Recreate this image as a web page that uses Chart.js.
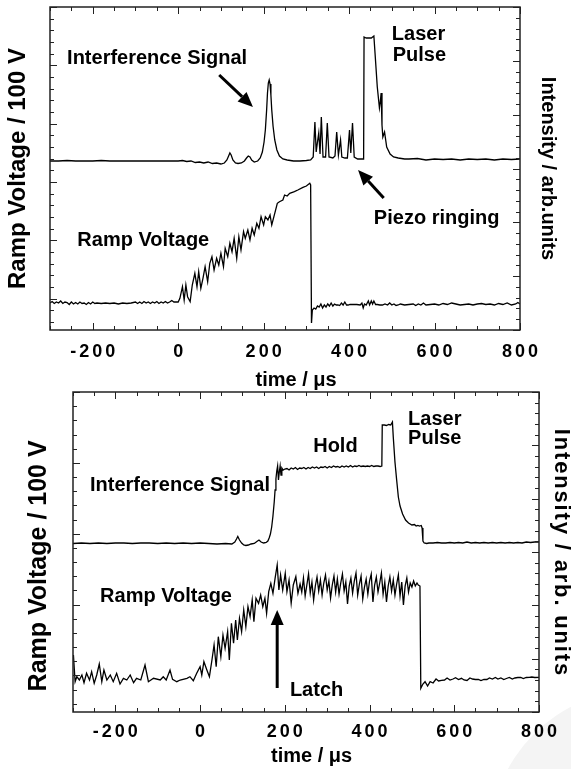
<!DOCTYPE html>
<html>
<head>
<meta charset="utf-8">
<script src="https://cdn.jsdelivr.net/npm/chart.js@4.4.1/dist/chart.umd.min.js"></script>
<style>
  html, body { margin: 0; padding: 0; background: #fff; }
  body { width: 571px; height: 769px; position: relative; overflow: hidden; }
  canvas { position: absolute; left: 0; }
  #topChart { top: 0; }
  #bottomChart { top: 380px; }
  .smudge { position: absolute; left: 490px; top: 690px; width: 300px; height: 300px; border-radius: 50%; background: #f4f4f4; }
</style>
</head>
<body>
<div class="smudge"></div>
<canvas id="topChart" width="571" height="400"></canvas>
<canvas id="bottomChart" width="571" height="389"></canvas>
<script>
// x axis (time / us)
var tickValues = [-200, 0, 200, 400, 600, 800];
var tickLabels = ['-200', '0', '200', '400', '600', '800'];

// ---- top panel: interference signal (arb. units)
var topSignalTime = [
  -300,-280,-260,-240,-220,-200,-180,-160,-140,-120,
  -100,-80,-60,-40,-20,0,10,20,30,40,
  50,60,70,80,90,100,108,114,118,121,
  124,128,134,140,148,155,160,164,168,172,
  178,186,192,197,201,204,207,209,211,213,
  215,217,219,222,226,231,237,245,255,270,
  285,300,310,316,320,323,326,329,332,335,
  339,345,349,353,362,367,371,375,380,383,
  390,396,401,404,408,412,420,428,434,435,
  440,445,452,458,461,466,471,473,475,477,
  479,483,488,496,504,515,530,540,560,580,
  600,620,640,660,680,700,720,740,760,780,
  800];
var topSignalValue = [
  169,169,169.5,169,169,169,169.5,169,169,169,
  169,169,169,169,169,169,169.5,168.5,169,167.5,
  168,167,168,166.5,167,166,167,170,174,177,
  175,170,167,166.5,167,169,172,174,173,170,
  168,169,172,178,188,200,220,237,247,250,
  246,235,220,204,190,180,174,171,170,169,
  169,169.5,170,173,208,178,188,197,176,213,
  173,173,207,173,172,174,198,175,190,173,
  172,172,200,177,207,173,171,171,171,293,
  292,292,292,294,275,243,222,228,237,205,
  193,198,183,176,173,172,171,171,171.5,170,
  171,170.5,171,170,171,170.5,171,170,171,170.5,
  171];

// ---- top panel: ramp voltage
var topRampTime = [
  -300,-295,-290,-285,-280,-275,-270,-265,-260,-255,
  -250,-245,-240,-235,-230,-225,-220,-215,-210,-205,
  -200,-195,-190,-180,-170,-160,-150,-140,-130,-120,
  -110,-100,-95,-90,-85,-80,-75,-70,-65,-60,
  -55,-50,-45,-40,-35,-30,-25,-20,-15,-10,
  -5,0,4,10,14,18,22,28,33,39,
  44,48,53,58,63,69,74,79,84,90,
  95,100,106,110,116,121,126,131,137,142,
  147,153,157,163,168,173,178,184,189,194,
  200,204,210,215,219,226,232,237,245,249,
  255,261,272,280,292,300,308,310,312,314,
  318,322,326,330,334,338,342,346,350,354,
  358,362,366,370,374,378,382,386,390,394,
  398,402,410,418,426,430,433,436,440,445,
  448,452,455,458,462,466,472,478,484,490,
  495,500,505,510,515,520,530,540,550,556,
  562,568,574,580,590,600,610,620,630,640,
  650,660,670,680,690,700,710,720,730,740,
  750,760,770,780,790,795,800];
var topRampValue = [
  27,28.5,26.5,28,27,29,26.5,28,27.5,25.5,
  28,26,27.5,26,28,26.5,27,25.5,27.5,26,
  28,26.5,27,26.5,27,26.5,27,26,27,26.5,
  27,28,26.5,28,26.5,28.5,27,28,26.5,28,
  27,28.5,26.5,28,27,28.5,27,28,29.5,28,
  28,28,31.7,43.3,30,45,33.3,28.3,45,56.7,
  43.3,58.3,41.7,51.7,63.3,48.3,66.7,73.3,60,71.7,
  65,76.7,63.3,81.7,73.3,86.7,78.3,91.7,71.7,93.3,
  80,98.3,91.7,100,90,101.7,95,106.7,101.7,113.3,
  105,113.3,110,115,105,116.7,126.7,128.3,130,135,
  134,136.7,138.3,140,142.7,144,146.7,145,7,20,
  22,21,24,23,26,22,25,23,26,24,
  27,24,26,25,25,24.5,27,25,28,25,
  25,25.5,25.5,25.5,25,27,22,26,25,29,
  25,29,26,29,25.5,25.5,25,25,26,25,
  27,25,26,24.5,25,26,25,25.5,26,24.5,
  26,25,27,25,25.5,26,25,26.5,25.5,27,
  26,25,25.5,26,25,26,26.5,25.5,26,25,
  26.5,25.5,27,25,26,27.5,26];

// ---- bottom panel: interference signal
var botSignalTime = [
  -300,-280,-260,-240,-220,-200,-180,-160,-140,-120,
  -100,-80,-60,-40,-20,0,20,40,60,75,
  82,86,89,93,98,103,108,114,120,128,
  134,139,144,150,156,160,163,166,169,172,
  175,177,179,181,183,185,187,189,191,193,
  196,200,205,210,215,220,225,230,235,240,
  245,250,255,260,265,270,275,280,285,290,
  295,300,305,310,315,320,325,330,335,340,
  345,350,355,360,365,370,375,380,385,390,
  395,400,405,410,415,420,425,429,430,435,
  440,445,450,454,456,460,464,468,472,478,
  485,492,500,506,510,514,518,522,524,526,
  529,535,540,550,560,570,580,590,600,610,
  620,630,640,650,660,670,680,690,700,710,
  720,730,740,750,760,770,780,790,800];
var botSignalValue = [
  168.5,169,168.5,169,168.5,169,169,168.5,169,169,
  168.5,169,168.5,169,168.5,169,168.5,168,168.5,168,
  170,173,175.5,172,169,167,166.5,167,168,168.5,
  170.5,172,170,169,169.5,171,174,178,185,196,
  210,222,233,241,246,232,240,246,237,244,
  242,243,243.5,242,244,243,244.5,242.5,244,243.5,
  244.5,243,244.5,243.5,245,244,245,243.5,245,244.5,
  245.5,244,245.5,244.5,246,245,245.5,244.5,246,245,
  246,245,246.5,245,246,245.5,246.5,245.5,246,245.5,
  246,245.5,246.5,245.5,246,246,245.5,246,287,287,
  286.5,287.5,287,290,275,250,232,215,206,198,
  192,189,187,187.5,186,186.5,186,186.5,184,171,
  169,168.5,169,169,169.5,169,169,169.5,169,169.5,
  169,170,169,169.5,169,169.5,169,169.5,169,169.5,
  169,169.5,169,169.5,169,170,169.5,170,170];

// ---- bottom panel: ramp voltage (latched)
var botRampTime = [
  -299,-295,-291,-285,-279,-274,-268,-261,-256,-250,
  -244,-238,-232,-227,-220,-212,-205,-197,-189,-181,
  -173,-165,-157,-150,-140,-130,-122,-110,-94,-87,
  -80,-71,-65,-55,-47,-31,-24,-16,-8,0,
  4,9,16,22,28,33,38,43,49,54,
  59,65,69,74,79,84,88,93,98,103,
  108,113,118,123,127,132,138,143,148,153,
  157,162,167,172,177,182,186,190,195,201,
  205,210,215,220,226,231,236,240,244,248,
  252,256,260,264,268,272,276,280,284,288,
  292,296,300,304,308,312,316,320,324,328,
  332,336,340,344,348,352,356,360,364,368,
  372,376,380,384,388,392,396,400,404,408,
  412,416,420,424,428,432,436,440,444,448,
  452,456,460,464,468,472,476,480,484,488,
  492,496,500,504,508,512,515,519,521,526,
  531,537,543,550,557,563,570,577,583,590,
  597,603,610,617,623,630,637,643,650,657,
  663,670,677,683,690,697,703,710,717,723,
  730,737,743,750,757,763,770,777,783,790,
  800];
var botRampValue = [
  57,30.3,35.3,32,37,29.3,38.7,32,40.3,28.7,
  37,48,30.3,42,32,37,30.3,38.7,28,33.7,
  32,37,29.3,33.7,32,47,30.3,33.7,32,35.3,
  32,42,32.7,30.3,32,33.7,35.3,31.3,38.7,45.3,
  37,50.3,42,35.3,52,67,45.3,75.3,55.3,77,
  63.7,80.3,52,88.7,68.7,92,72,93.7,80.3,102,
  85.3,105.3,95.3,112,90.3,113.7,108.7,117,105.3,113.7,
  98.7,120.3,128.7,118.7,133.7,147,122,137,122,138.7,
  120.3,132,108.7,127,135.3,118.7,128,120,134,116,
  127,138,119,130,112,126,135,121,132,117,
  129,137,122,131,114,127,136,120,133,118,
  129,138,121,130,108,126,134,119,131,139,
  117,128,136,113,125,133,118,131,138,110,
  127,135,120,129,139,118,130,110,126,135,
  121,132,117,128,137,116,130,107,126,134,
  120,129,125,131,126,129,127,126,23.7,28,
  30.3,26,30.3,29,33,31,31.7,32,34,32,
  33,34.3,32.5,33.7,32,31.5,34,33,32.5,32.5,
  31.5,32.5,32.5,34,33,34.5,33,34,32.5,33.5,
  34.5,33,34,34.5,34.5,33.5,34.5,34.7,35,34.5,
  34.7];

var FONT = '"Liberation Sans", Arial, Helvetica, sans-serif';
Chart.defaults.font.family = FONT;
Chart.defaults.color = '#000';

function points(times, values) {
  return times.map(function (t, i) { return { x: t, y: values[i] }; });
}

function spaced(s, gap) {
  return s.split('').join(gap || '\u2006');
}

// box round the plot, ticks pointing inwards on all four sides
var framePlugin = {
  id: 'frame',
  afterDatasetsDraw: function (chart, args, opts) {
    var ctx = chart.ctx, a = chart.chartArea;
    var x = chart.scales.x, y = chart.scales.y;
    ctx.save();
    ctx.strokeStyle = '#222';
    ctx.lineWidth = 1;
    ctx.beginPath();
    for (var v = -300; v <= 800; v += 50) {
      var px = Math.round(x.getPixelForValue(v)) + 0.5;
      var len = tickValues.indexOf(v) >= 0 ? 7 : 4;
      ctx.moveTo(px, a.bottom); ctx.lineTo(px, a.bottom - len);
      ctx.moveTo(px, a.top); ctx.lineTo(px, a.top + len);
    }
    for (var k = 0; y.max - k * opts.leftStep >= y.min; k++) {
      var py = Math.round(y.getPixelForValue(y.max - k * opts.leftStep)) + 0.5;
      ctx.moveTo(a.left, py); ctx.lineTo(a.left + (k % 5 === 0 ? 7 : 4), py);
    }
    for (var j = 0; j <= 30; j++) {
      var qy = Math.round(y.getPixelForValue(y.max - j * (y.max - y.min) / 30)) + 0.5;
      ctx.moveTo(a.right, qy); ctx.lineTo(a.right - (j % 5 === 0 ? 7 : 4), qy);
    }
    ctx.stroke();
    ctx.lineWidth = 1.5;
    ctx.strokeRect(a.left, a.top, a.right - a.left, a.bottom - a.top);
    ctx.restore();
  }
};

// labels and arrows, placed in data coordinates
var notesPlugin = {
  id: 'notes',
  afterDraw: function (chart, args, opts) {
    var ctx = chart.ctx, x = chart.scales.x, y = chart.scales.y;
    ctx.save();
    ctx.fillStyle = '#000';
    ctx.strokeStyle = '#000';
    ctx.font = 'bold 20px ' + FONT;
    ctx.textBaseline = 'middle';
    ctx.textAlign = 'left';
    opts.labels.forEach(function (n) {
      ctx.fillText(n.text, x.getPixelForValue(n.t), y.getPixelForValue(n.v));
    });
    opts.arrows.forEach(function (ar) {
      var x1 = x.getPixelForValue(ar.t1), y1 = y.getPixelForValue(ar.v1);
      var x2 = x.getPixelForValue(ar.t2), y2 = y.getPixelForValue(ar.v2);
      var ang = Math.atan2(y2 - y1, x2 - x1);
      var head = 15, half = 6.5;
      var bx = x2 - head * Math.cos(ang), by = y2 - head * Math.sin(ang);
      ctx.lineWidth = 3;
      ctx.beginPath(); ctx.moveTo(x1, y1); ctx.lineTo(bx, by); ctx.stroke();
      ctx.beginPath();
      ctx.moveTo(x2, y2);
      ctx.lineTo(bx - half * Math.sin(ang), by + half * Math.cos(ang));
      ctx.lineTo(bx + half * Math.sin(ang), by - half * Math.cos(ang));
      ctx.closePath();
      ctx.fill();
    });
    ctx.restore();
  }
};

function panel(id, p) {
  return new Chart(id, {
    type: 'line',
    data: {
      datasets: [{
        label: 'Ramp Voltage',
        data: points(p.rampTime, p.rampValue),
        yAxisID: 'y'
      }, {
        label: 'Interference Signal',
        data: points(p.signalTime, p.signalValue),
        yAxisID: 'y2'
      }]
    },
    options: {
      responsive: false,
      animation: false,
      devicePixelRatio: 1,
      layout: { padding: { top: p.top, left: 0, right: 0, bottom: 0 } },
      elements: {
        point: { radius: 0 },
        line: { borderWidth: 1.3, borderColor: '#000', tension: 0, fill: false }
      },
      plugins: {
        legend: { display: false },
        tooltip: { enabled: false },
        frame: { leftStep: p.leftStep },
        notes: { labels: p.labels, arrows: p.arrows }
      },
      scales: {
        x: {
          type: 'linear', min: -300, max: 800,
          grid: { display: false }, border: { display: false },
          afterBuildTicks: function (s) { s.ticks = tickValues.map(function (v) { return { value: v }; }); },
          afterFit: function (s) { s.height = p.xHeight; },
          ticks: {
            autoSkip: false, maxRotation: 0, padding: p.tickPad, color: '#000',
            font: { size: 18, weight: 'bold' },
            callback: function (v, i) { return spaced(tickLabels[i]); }
          },
          title: { display: true, text: p.xTitle, color: '#000', font: { size: 20, weight: 'bold' }, padding: { top: 0, bottom: p.xTitlePad } }
        },
        y: {
          position: 'left', min: 0, max: p.yMax,
          grid: { display: false }, border: { display: false }, ticks: { display: false },
          afterFit: function (s) { s.width = p.leftWidth; },
          title: { display: true, text: p.leftTitle, color: '#000', font: { size: p.leftSize, weight: 'bold' }, padding: { top: p.leftTitlePad, bottom: 0 } }
        },
        y2: {
          position: 'right', min: 0, max: p.yMax,
          grid: { display: false }, border: { display: false }, ticks: { display: false },
          afterFit: function (s) { s.width = p.rightWidth; },
          title: { display: true, text: p.rightTitle, color: '#000', font: { size: p.rightSize, weight: 'bold' }, padding: { top: p.rightTitlePad, bottom: 0 } }
        }
      }
    },
    plugins: [framePlugin, notesPlugin]
  });
}

panel('topChart', {
  rampTime: topRampTime, rampValue: topRampValue,
  signalTime: topSignalTime, signalValue: topSignalValue,
  yMax: 323, leftStep: 11.67,
  top: 7, xHeight: 70, tickPad: 3, xTitlePad: 8, xTitle: '    time / μs',
  leftWidth: 50, leftTitlePad: 3.6, leftSize: 24, leftTitle: 'Ramp Voltage / 100 V',
  rightWidth: 51, rightTitlePad: 11, rightSize: 20, rightTitle: 'Intensity / arb.units',
  labels: [
    { text: 'Interference Signal', t: -260, v: 272 },
    { text: 'Laser', t: 500, v: 296 },
    { text: 'Pulse', t: 502, v: 275 },
    { text: 'Piezo ringing', t: 458, v: 112 },
    { text: 'Ramp Voltage', t: -236, v: 90 }
  ],
  arrows: [
    { t1: 96, v1: 255, t2: 175, v2: 223 },
    { t1: 481, v1: 132, t2: 421, v2: 160 }
  ]
});

panel('bottomChart', {
  rampTime: botRampTime, rampValue: botRampValue,
  signalTime: botSignalTime, signalValue: botSignalValue,
  yMax: 320, leftStep: 14.17,
  top: 12, xHeight: 57, tickPad: 1, xTitlePad: 1, xTitle: '  time / μs',
  leftWidth: 73, leftTitlePad: 24, leftSize: 25, leftTitle: 'Ramp Voltage / 100 V    ',
  rightWidth: 32, rightTitlePad: -3.2, rightSize: 22, rightTitle: spaced('Intensity / arb. units', '\u200A'),
  labels: [
    { text: 'Interference Signal', t: -260, v: 227 },
    { text: 'Hold', t: 267, v: 266 },
    { text: 'Laser', t: 491, v: 293 },
    { text: 'Pulse', t: 491, v: 274 },
    { text: 'Ramp Voltage', t: -236, v: 116 },
    { text: 'Latch', t: 212, v: 22 }
  ],
  arrows: [
    { t1: 182, v1: 24, t2: 182, v2: 102 }
  ]
});
</script>
</body>
</html>
